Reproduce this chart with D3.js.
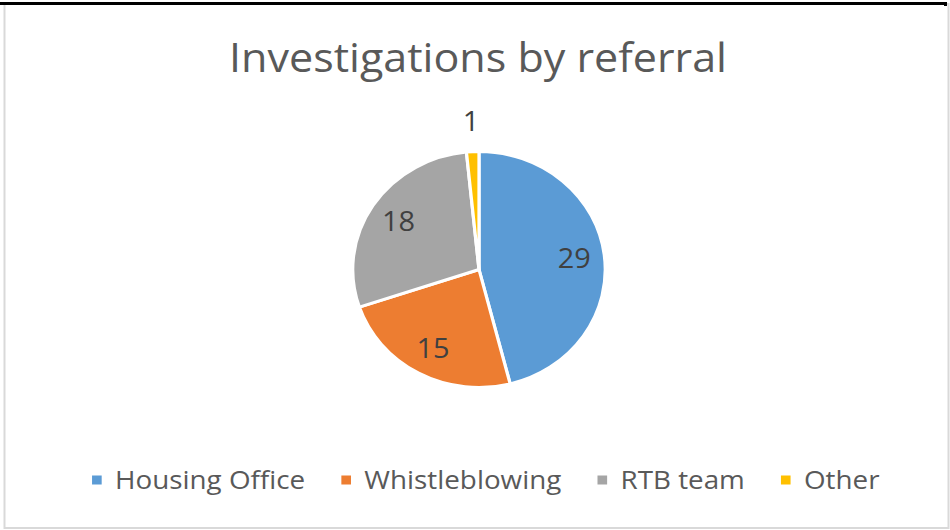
<!DOCTYPE html>
<html>
<head>
<meta charset="utf-8">
<script src="https://cdn.jsdelivr.net/npm/d3@7"></script>
<style>
  html, body { margin: 0; padding: 0; background: #fff; }
  svg { display: block; }
  text { font-family: "Open Sans", Lato, sans-serif; }
</style>
</head>
<body>
<svg id="chart" width="950" height="530"></svg>
<script>
// Referral sources and counts
const categories = ["Housing Office", "Whistleblowing", "RTB team", "Other"];
const values = [29, 15, 18, 1];
const colors = ["#5B9BD5", "#ED7D31", "#A5A5A5", "#FFC000"];
const title = "Investigations by referral";

const svg = d3.select("#chart");
const sx = 1.07; // horizontal stretch of the whole drawing

// Frame
svg.append("rect").attr("x", 4.5).attr("y", 4).attr("width", 944).attr("height", 524)
  .attr("fill", "#fff").attr("stroke", "#d9d9d9").attr("stroke-width", 2);
svg.append("path").attr("d", "M0,3.5H945.5V6")
  .attr("fill", "none").attr("stroke", "#000").attr("stroke-width", 3);

// Title, stretched to its box width
const titleG = svg.append("g");
const titleT = titleG.append("text")
  .attr("text-anchor", "middle")
  .attr("font-size", 40)
  .attr("fill", "#595959")
  .text(title);
const tw = titleT.node().getComputedTextLength();
titleG.attr("transform", `translate(478,72) scale(${498 / tw},1)`);

// Pie
const cx = 479, cy = 269.5, R = 118;
const data = categories.map((c, i) => ({ name: c, value: values[i], color: colors[i] }));
const pie = d3.pie().value(d => d.value).sort(null);
const arcs = pie(data);
const arc = d3.arc().innerRadius(0).outerRadius(R);
const labelArc = d3.arc().innerRadius(R * 0.76).outerRadius(R * 0.76);
const outerLabelArc = d3.arc().innerRadius(R + 30).outerRadius(R + 30);

const g = svg.append("g").attr("transform", `translate(${cx},${cy})`);
g.append("g").attr("transform", `scale(${sx},1)`)
  .selectAll("path").data(arcs).join("path")
  .attr("d", arc)
  .attr("fill", d => d.data.color)
  .attr("stroke", "#fff")
  .attr("stroke-width", 3)
  .attr("stroke-linejoin", "round");

g.selectAll("text.val").data(arcs).join("text")
  .attr("class", "val")
  .attr("transform", d => {
    const small = (d.endAngle - d.startAngle) < 0.3;
    const [x, y] = (small ? outerLabelArc : labelArc).centroid(d);
    return `translate(${x * sx},${y}) scale(${sx},1)`;
  })
  .attr("text-anchor", "middle")
  .attr("dy", "0.36em")
  .attr("font-size", 27)
  .attr("fill", "#404040")
  .text(d => d.data.value);

// Legend, laid out along the bottom
const legend = svg.append("g");
const items = legend.selectAll("g").data(data).join("g");
items.append("rect").attr("width", 9).attr("height", 9).attr("y", -4.5)
  .attr("fill", d => d.color);
items.append("text").attr("x", 23 / sx).attr("dy", "0.36em")
  .attr("font-size", 26).attr("fill", "#595959")
  .text(d => d.name);
let x = 0;
const gap = 36;
items.each(function () {
  const w = this.getBBox().width * sx;
  d3.select(this).attr("transform", `translate(${x},480) scale(${sx},1)`);
  x += w + gap;
});
const total = x - gap;
legend.attr("transform", `translate(${486 - total / 2},0)`);
</script>
</body>
</html>
